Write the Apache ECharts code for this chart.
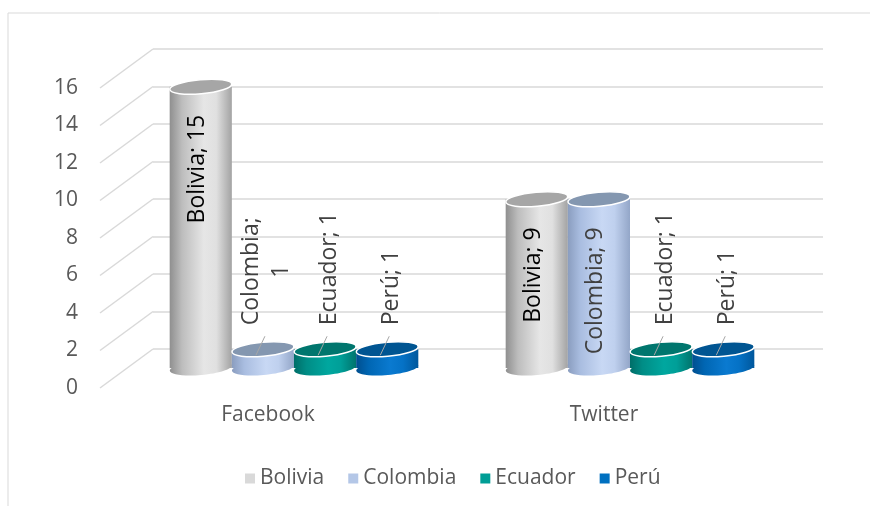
<!DOCTYPE html>
<html>
<head>
<meta charset="utf-8">
<script src="https://cdn.jsdelivr.net/npm/echarts@6/dist/echarts.min.js"></script>
<style>
  html, body { margin: 0; padding: 0; background: #fff; }
  #chart { width: 870px; height: 506px; }
</style>
</head>
<body>
<div id="chart"></div>
<script>
// data
const categories = ['Facebook', 'Twitter'];
const countries = ['Bolivia', 'Colombia', 'Ecuador', 'Perú'];
const bolivia = [15, 9];
const colombia = [1, 9];
const ecuador = [1, 1];
const peru = [1, 1];
const yTicks = [0, 2, 4, 6, 8, 10, 12, 14, 16];

const values = [bolivia, colombia, ecuador, peru];

// look of each country: legend colour, side shading, top colour, label colour
const palette = [
  { legend: '#d9d9d9', top: '#a6a6a6', label: '#000000',
    side: ['#8f8f8f', '#bdbdbd', '#e6e6e6', '#e0e0e0', '#a3a3a3'] },
  { legend: '#b4c7e7', top: '#8497b0', label: '#404040',
    side: ['#8a9dbf', '#a9bde0', '#c8d8f4', '#bfd0ee', '#93a6c8'] },
  { legend: '#009e96', top: '#00766e', label: '#404040',
    side: ['#006e68', '#008d86', '#00a79f', '#009f98', '#00746d'] },
  { legend: '#0070c0', top: '#005592', label: '#404040',
    side: ['#004f8f', '#0066b3', '#0a7ad0', '#0572c6', '#00579c'] }
];
const wrapped = { '1-0': true }; // Colombia on Facebook breaks its label

const FONT = '"Open Sans", "Liberation Sans", sans-serif';
const DX = 53, DY = 39; // depth of the 3D floor
const AXIS_SIZE = 21, LABEL_SIZE = 23;

const measureCtx = document.createElement('canvas').getContext('2d');
function textWidth(t, size) {
  measureCtx.font = size + 'px ' + FONT;
  return measureCtx.measureText(t).width;
}

function cylinder(idx) {
  const pal = palette[idx];
  return function (params, api) {
    const cat = api.value(0), val = api.value(1);
    const base = api.coord([cat, 0]);
    const top = api.coord([cat, val]);
    const w = api.size([1, 0])[0] * 0.74 / 4;
    const cx = base[0] + (idx - 1.5) * w;
    const rx = w / 2, ry = 7, tilt = 0.09;
    const stops = pal.side.map((c, i) => ({ offset: [0, 0.2, 0.55, 0.75, 1][i], color: c }));
    const grad = { type: 'linear', x: 0, y: 0, x2: 1, y2: 0, colorStops: stops };
    const children = [
      { type: 'ellipse', x: cx, y: base[1], rotation: tilt,
        shape: { cx: 0, cy: 0, rx: rx, ry: ry }, style: { fill: grad } },
      { type: 'rect', shape: { x: cx - rx, y: top[1], width: w, height: base[1] - top[1] },
        style: { fill: grad } },
      { type: 'ellipse', x: cx, y: top[1], rotation: tilt,
        shape: { cx: 0, cy: 0, rx: rx, ry: ry },
        style: { fill: pal.top, stroke: '#ffffff', lineWidth: 1.5 } }
    ];
    let text = countries[idx] + '; ' + val;
    if (base[1] - top[1] > 120) {
      // label inside the cylinder, near its top
      children.push({ type: 'text', x: cx - 3, y: top[1] + 28, rotation: Math.PI / 2,
        style: { text: text, fill: pal.label, fontSize: LABEL_SIZE, fontFamily: FONT,
          align: 'right', verticalAlign: 'middle' } });
    } else {
      if (wrapped[idx + '-' + params.dataIndex]) text = countries[idx] + ';\n' + val;
      const len = Math.max.apply(null, text.split('\n').map(t => textWidth(t, LABEL_SIZE)));
      children.push({ type: 'line',
        shape: { x1: cx - 7, y1: top[1] + 6, x2: cx + 2, y2: top[1] - 13 },
        style: { stroke: '#a6a6a6', lineWidth: 1 } });
      children.push({ type: 'text', x: cx + 4, y: top[1] - 24 - len / 2, rotation: Math.PI / 2,
        style: { text: text, fill: pal.label, fontSize: LABEL_SIZE, fontFamily: FONT,
          align: 'center', verticalAlign: 'middle', lineHeight: 30 } });
    }
    return { type: 'group', children: children };
  };
}

const chart = echarts.init(document.getElementById('chart'), null, { renderer: 'canvas' });

const series = countries.map((name, i) => ({
  name: name,
  type: 'custom',
  xAxisIndex: 2,
  yAxisIndex: 2,
  silent: true,
  itemStyle: { color: palette[i].legend },
  encode: { x: 0, y: 1 },
  data: values[i].map((v, c) => [c, v]),
  renderItem: cylinder(i)
}));

// diagonal floor lines joining the front tick labels to the back wall
series.unshift({
  type: 'custom',
  xAxisIndex: 1,
  yAxisIndex: 1,
  silent: true,
  data: yTicks.map(v => [0, v]),
  encode: { x: 0, y: 1 },
  renderItem: function (params, api) {
    const y = api.coord([0, api.value(1)])[1];
    const x = params.coordSys.x;
    return { type: 'line', shape: { x1: x, y1: y, x2: x + DX, y2: y - DY },
      style: { stroke: '#d9d9d9', lineWidth: 1.5 } };
  }
});

chart.setOption({
  animation: false,
  backgroundColor: '#ffffff',
  textStyle: { fontFamily: FONT },
  graphic: [{ type: 'rect', shape: { x: 8, y: 13, width: 900, height: 600 },
    style: { fill: 'none', stroke: '#d9d9d9', lineWidth: 1 }, silent: true }],
  legend: {
    data: countries,
    left: 240,
    top: 463,
    icon: 'rect',
    itemWidth: 10,
    itemHeight: 10,
    itemGap: 24,
    textStyle: { fontSize: AXIS_SIZE, color: '#595959', fontFamily: FONT }
  },
  grid: [
    { left: 100 + DX, right: 47, top: 88 - DY, bottom: 118 + DY },   // back wall
    { left: 100, right: 98, top: 88, bottom: 118 },                  // front edge
    { left: 126, right: 72, top: 68, bottom: 138 }                   // cylinders
  ],
  xAxis: [
    { gridIndex: 0, type: 'category', data: categories, show: false },
    { gridIndex: 1, type: 'category', data: categories,
      axisLine: { show: false }, axisTick: { show: false },
      axisLabel: { margin: 17, fontSize: AXIS_SIZE, color: '#595959', fontFamily: FONT } },
    { gridIndex: 2, type: 'category', data: categories, show: false }
  ],
  yAxis: [
    { gridIndex: 0, type: 'value', min: 0, max: 16, interval: 2,
      axisLine: { show: false }, axisTick: { show: false }, axisLabel: { show: false },
      splitLine: { lineStyle: { color: '#d9d9d9', width: 1.5 } } },
    { gridIndex: 1, type: 'value', min: 0, max: 16, interval: 2,
      axisLine: { show: false }, axisTick: { show: false }, splitLine: { show: false },
      axisLabel: { margin: 22, fontSize: AXIS_SIZE, color: '#595959', fontFamily: FONT } },
    { gridIndex: 2, type: 'value', min: 0, max: 16, interval: 2, show: false,
      splitLine: { show: false } }
  ],
  series: series
});
</script>
</body>
</html>
